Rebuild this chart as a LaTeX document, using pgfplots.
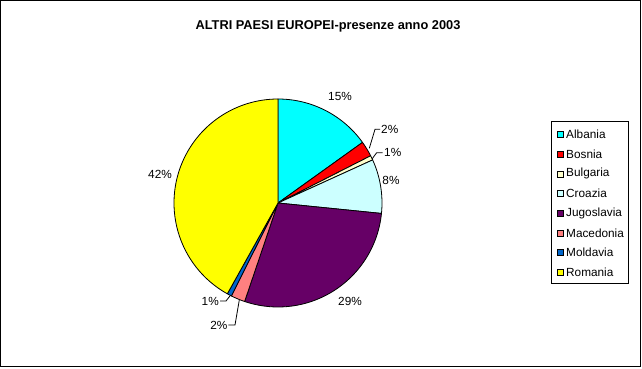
\documentclass[border=0pt]{standalone}
\usepackage{pgfplots}
\usepackage{pgfplotstable}
\pgfplotsset{compat=1.18}
\usepackage{fontspec}
\setmainfont{Liberation Sans}

\definecolor{pie0}{RGB}{0,255,255}
\definecolor{pie1}{RGB}{255,0,0}
\definecolor{pie2}{RGB}{255,255,204}
\definecolor{pie3}{RGB}{204,255,255}
\definecolor{pie4}{RGB}{102,0,102}
\definecolor{pie5}{RGB}{255,128,128}
\definecolor{pie6}{RGB}{0,102,204}
\definecolor{pie7}{RGB}{255,255,0}

\pgfplotstableread{
name value
Albania 15.1
Bosnia 2.4
Bulgaria 0.7
Croazia 8.4
Jugoslavia 28.6
Macedonia 2.2
Moldavia 0.7
Romania 41.9
}\piedata

\def\cum{0}
\pgfplotsforeachungrouped \i in {0,...,7}{%
  \pgfplotstablegetelem{\i}{value}\of\piedata
  \pgfmathsetmacro\a{\cum*3.6}%
  \pgfmathsetmacro\cum{\cum+\pgfplotsretval}%
  \pgfmathsetmacro\b{\cum*3.6}%
  \expandafter\xdef\csname pieA\i\endcsname{\a}%
  \expandafter\xdef\csname pieB\i\endcsname{\b}%
  \pgfplotstablegetelem{\i}{name}\of\piedata
  \expandafter\xdef\csname pieN\i\endcsname{\pgfplotsretval}%
}

\begin{document}
\begin{tikzpicture}
\begin{axis}[scale only axis, width=642bp, height=369bp,
  xmin=0, xmax=642, ymin=0, ymax=369, y dir=reverse,
  axis lines=none, clip=false]
\path (axis cs:0,0) (axis cs:642,369);
\draw[black, line width=1bp] (axis cs:0.5,0.5) rectangle (axis cs:640.5,366.5);
\node[font=\fontsize{12.8bp}{14bp}\selectfont\bfseries] at (axis cs:328,26) {ALTRI PAESI EUROPEI-presenze anno 2003};
\pgfplotsinvokeforeach{0,...,7}{
  \filldraw[fill=pie#1, draw=black, line width=0.8bp, line join=round]
    (axis cs:278,203) -- (axis cs:{278+104*sin(\csname pieA#1\endcsname)},{203-104*cos(\csname pieA#1\endcsname)})
    arc[start angle={90-\csname pieA#1\endcsname}, end angle={90-\csname pieB#1\endcsname}, radius=104bp] -- cycle;
}
% leader lines
\draw[line width=0.8bp] (axis cs:369.3,148.3) -- (axis cs:375,129.3) -- (axis cs:380,129.3);
\draw[line width=0.8bp] (axis cs:372,159) -- (axis cs:376.7,152.7) -- (axis cs:382.7,152.7);
\draw[line width=0.8bp] (axis cs:220,301) -- (axis cs:226,301) -- (axis cs:230.7,295);
\draw[line width=0.8bp] (axis cs:228.3,325) -- (axis cs:235,325) -- (axis cs:239.3,300);
% labels
\begin{scope}[every node/.style={font=\fontsize{11.8bp}{13bp}\selectfont, inner sep=0pt}]
\node at (axis cs:340,96) {15\%};
\node[anchor=west] at (axis cs:381,129.3) {2\%};
\node[anchor=west] at (axis cs:384,152.7) {1\%};
\node at (axis cs:391,180.7) {8\%};
\node at (axis cs:350,301.7) {29\%};
\node at (axis cs:160,174) {42\%};
\node[anchor=east] at (axis cs:219,301) {1\%};
\node[anchor=east] at (axis cs:227.5,325) {2\%};
\end{scope}
% legend
\draw[line width=0.8bp, fill=white] (axis cs:551.5,121.5) rectangle (axis cs:628.5,283);
\pgfplotsinvokeforeach{0,...,7}{
  \filldraw[fill=pie#1, draw=black, line width=0.6bp] (axis cs:557.5,{134.5+19.7*#1-3}) rectangle (axis cs:563.5,{134.5+19.7*#1+3});
  \node[anchor=west, inner sep=0pt, font=\fontsize{11.8bp}{13bp}\selectfont] at (axis cs:566,{134.5+19.7*#1}) {\csname pieN#1\endcsname};
}
\end{axis}
\end{tikzpicture}
\end{document}
